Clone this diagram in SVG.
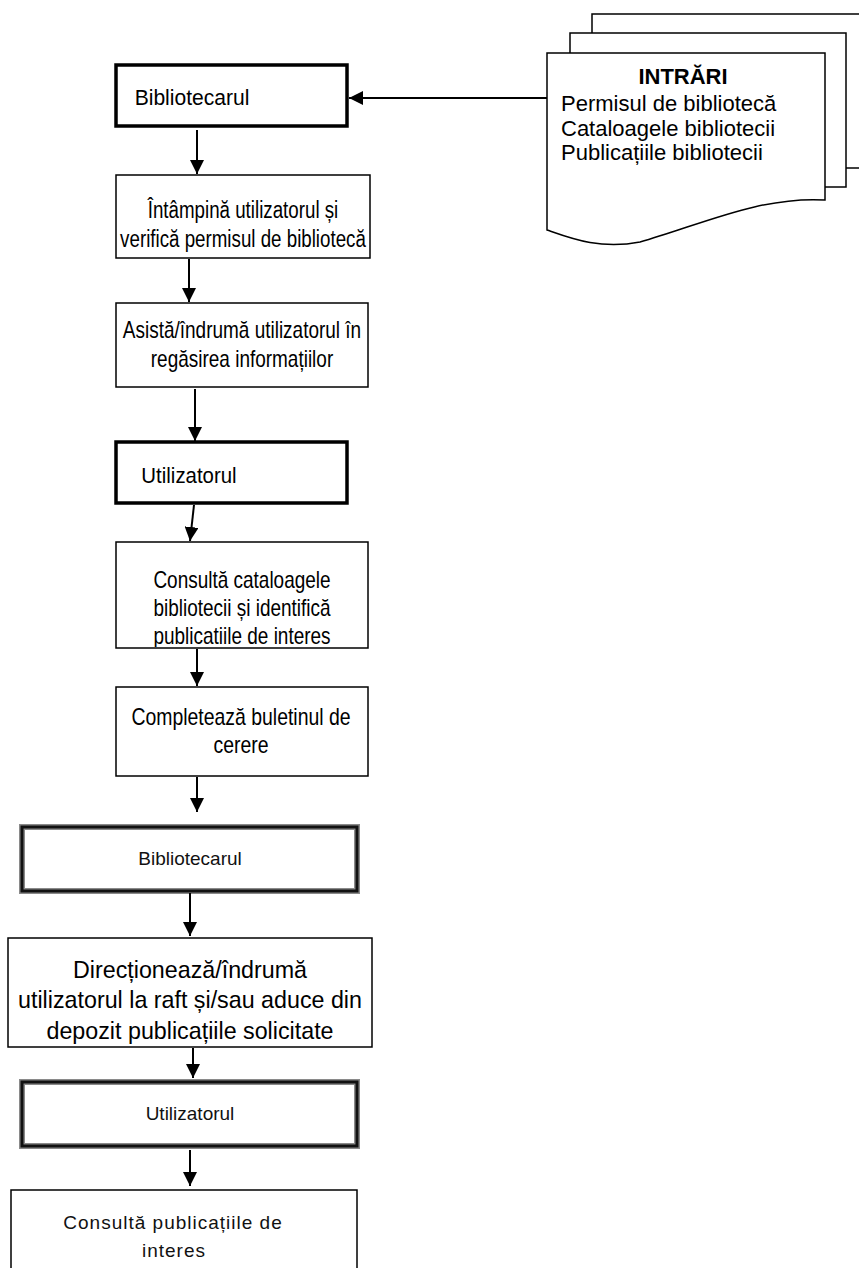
<svg xmlns="http://www.w3.org/2000/svg" width="859" height="1268" viewBox="0 0 859 1268">
<style>
.box{fill:#fff;stroke:#000;stroke-width:1.5}
.thick{fill:#fff;stroke:#000;stroke-width:3.5}
.soft{fill:#fff;stroke:#8a8a8a;stroke-width:6}
.soft2{fill:none;stroke:#111;stroke-width:3}
.doc{fill:#fff;stroke:#000;stroke-width:1.5}
.t{font-family:"Liberation Sans",Arial,sans-serif;font-size:21.5px;fill:#000;text-anchor:middle}
.tm{font-family:"Liberation Sans",Arial,sans-serif;font-size:23px;fill:#000;text-anchor:middle}
.tl{font-family:"Liberation Sans",Arial,sans-serif;font-size:22px;fill:#000}
.tb{font-family:"Liberation Sans",Arial,sans-serif;font-size:22px;font-weight:bold;fill:#000;text-anchor:middle}
.tw{font-family:"Liberation Sans",Arial,sans-serif;font-size:24px;fill:#000;text-anchor:middle}
.ts{font-family:"Liberation Sans",Arial,sans-serif;font-size:19px;fill:#111;text-anchor:middle}
.c{stroke:#000;stroke-width:2;fill:none;marker-end:url(#ah)}
</style>
<defs>
<marker id="ah" markerUnits="userSpaceOnUse" markerWidth="14" markerHeight="14" refX="14" refY="7" orient="auto">
<path d="M0,0 L14,7 L0,14 Z" fill="#000"/>
</marker>
<clipPath id="c5"><rect x="116" y="542" width="252" height="105"/></clipPath>
<clipPath id="c8"><rect x="8" y="938" width="364" height="107"/></clipPath>
</defs>

<g id="intrari">
<rect class="doc" x="592" y="14" width="290" height="154"/>
<rect class="doc" x="570" y="33" width="276" height="154"/>
<path class="doc" d="M547,53 H825 V200 C760,196 700,225 640,242 C600,250 570,238 547,230 Z"/>
<text class="tb" x="683" y="84">INTRĂRI</text>
<text class="tl" x="561" y="111">Permisul de bibliotecă</text>
<text class="tl" x="561" y="136">Cataloagele bibliotecii</text>
<text class="tl" x="561" y="160">Publicațiile bibliotecii</text>
</g>

<g id="n1">
<rect class="thick" x="116" y="65" width="231" height="61"/>
<g transform="translate(192 0) scale(0.98 1)"><text class="t" x="0" y="105">Bibliotecarul</text></g>
</g>

<g id="n2">
<rect class="box" x="116" y="175" width="254" height="83"/>
<g transform="translate(243 0) scale(0.815 1)">
<text class="tm" x="0" y="218">Întâmpină utilizatorul și</text>
<text class="tm" x="0" y="247">verifică permisul de bibliotecă</text>
</g>
</g>

<g id="n3">
<rect class="box" x="116" y="303" width="252" height="84"/>
<g transform="translate(242 0) scale(0.825 1)">
<text class="tm" x="0" y="338">Asistă/îndrumă utilizatorul în</text>
<text class="tm" x="0" y="367">regăsirea informațiilor</text>
</g>
</g>

<g id="n4">
<rect class="thick" x="116" y="442" width="231" height="61"/>
<g transform="translate(189 0) scale(0.95 1)"><text class="t" x="0" y="483">Utilizatorul</text></g>
</g>

<g id="n5">
<rect class="box" x="116" y="542" width="252" height="106"/>
<g clip-path="url(#c5)">
<g transform="translate(242 0) scale(0.825 1)">
<text class="tm" x="0" y="588">Consultă cataloagele</text>
<text class="tm" x="0" y="616">bibliotecii și identifică</text>
<text class="tm" x="0" y="644">publicatiile de interes</text>
</g>
</g>
</g>

<g id="n6">
<rect class="box" x="116" y="687" width="252" height="89"/>
<g transform="translate(241 0) scale(0.845 1)">
<text class="tm" x="0" y="725">Completează buletinul de</text>
<text class="tm" x="0" y="753">cerere</text>
</g>
</g>

<g id="n7">
<rect class="soft" x="22" y="827" width="335" height="64"/>
<rect class="soft2" x="22" y="827" width="335" height="64"/>
<text class="ts" x="190" y="865">Bibliotecarul</text>
</g>

<g id="n8">
<rect class="box" x="8" y="938" width="364" height="109"/>
<g clip-path="url(#c8)">
<g transform="translate(190 0) scale(0.97 1)">
<text class="tw" x="0" y="978">Direcționează/îndrumă</text>
<text class="tw" x="0" y="1008">utilizatorul la raft și/sau aduce din</text>
<text class="tw" x="0" y="1039">depozit publicațiile solicitate</text>
</g>
</g>
</g>

<g id="n9">
<rect class="soft" x="22" y="1082" width="335" height="64"/>
<rect class="soft2" x="22" y="1082" width="335" height="64"/>
<text class="ts" x="190" y="1120">Utilizatorul</text>
</g>

<g id="n10">
<rect class="box" x="11" y="1190" width="346" height="90"/>
<text class="ts" x="173" y="1229" letter-spacing="1">Consultă publicațiile  de</text>
<text class="ts" x="174" y="1257" letter-spacing="1">interes</text>
</g>

<g id="connectors">
<line class="c" x1="547" y1="98" x2="349" y2="98"/>
<line class="c" x1="197" y1="130" x2="197" y2="174"/>
<line class="c" x1="189" y1="259" x2="189" y2="302"/>
<line class="c" x1="195" y1="389" x2="195" y2="441"/>
<line class="c" x1="194" y1="505" x2="190" y2="541"/>
<line class="c" x1="197" y1="649" x2="197" y2="686"/>
<line class="c" x1="197" y1="777" x2="197" y2="812"/>
<line class="c" x1="190" y1="893" x2="190" y2="936"/>
<line class="c" x1="193" y1="1048" x2="193" y2="1078"/>
<line class="c" x1="190" y1="1150" x2="190" y2="1186"/>
</g>
</svg>
